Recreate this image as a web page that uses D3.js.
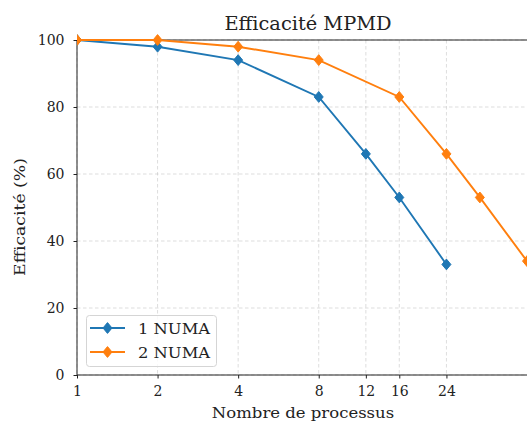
<!DOCTYPE html>
<html>
<head>
<meta charset="utf-8">
<script src="https://cdn.jsdelivr.net/npm/d3@7"></script>
<style>
  html, body { margin: 0; padding: 0; background: #fff; }
  svg { display: block; font-family: "DejaVu Serif", serif; }
</style>
</head>
<body>
<svg id="chart" width="527" height="421"></svg>
<script>
// Parallel efficiency of the MPMD run, by number of processes
const procs1 = [1, 2, 4, 8, 12, 16, 24];
const eff1 = [100, 98, 94, 83, 66, 53, 33];
const procs2 = [1, 2, 4, 8, 16, 24, 32, 48];
const eff2 = [100, 100, 98, 94, 83, 66, 53, 34];
const seriesNames = ["1 NUMA", "2 NUMA"];
const seriesColors = ["#1f77b4", "#ff7f0e"];
const xTicks = [1, 2, 4, 8, 12, 16, 24];
const yTicks = [0, 20, 40, 60, 80, 100];

const svg = d3.select("#chart");
const m = { left: 77, right: 527, top: 40, bottom: 375 };
const ink = "#222";

const x = d3.scaleLog().base(2).domain([1, 48]).range([m.left, m.right]);
const y = d3.scaleLinear().domain([0, 100]).range([m.bottom, m.top]);

// text helper with a slight widening of the glyphs along the baseline
function label(parent, px, py, str, size, anchor, sx, rot) {
  return parent.append("text")
    .attr("transform", `translate(${px},${py})` + (rot ? ` rotate(${rot})` : "") + ` scale(${sx},1)`)
    .attr("text-anchor", anchor).attr("font-size", size).attr("fill", ink).text(str);
}

// clip region for the plot
svg.append("defs").append("clipPath").attr("id", "plotclip")
  .append("rect").attr("x", m.left).attr("y", m.top - 6)
  .attr("width", m.right - m.left).attr("height", m.bottom - m.top + 12);

// grid
const grid = svg.append("g").attr("stroke", "#b0b0b0").attr("stroke-opacity", 0.55)
  .attr("stroke-width", 0.8).attr("stroke-dasharray", "3.5,2.5");
grid.selectAll("line.v").data(xTicks).join("line")
  .attr("x1", d => x(d)).attr("x2", d => x(d)).attr("y1", m.top).attr("y2", m.bottom);
grid.selectAll("line.h").data(yTicks).join("line")
  .attr("x1", m.left).attr("x2", m.right).attr("y1", d => y(d)).attr("y2", d => y(d));

// axes
const xAxis = d3.axisBottom(x).tickValues(xTicks).tickFormat(d3.format("d")).tickSizeOuter(0).tickSize(3.5).tickPadding(8);
const yAxis = d3.axisLeft(y).tickValues(yTicks).tickSizeOuter(0).tickSize(3.5).tickPadding(9);
const gx = svg.append("g").attr("transform", `translate(0,${m.bottom})`).call(xAxis);
const gy = svg.append("g").attr("transform", `translate(${m.left},0)`).call(yAxis);
[gx, gy].forEach(g => {
  g.selectAll("text").attr("font-family", "DejaVu Serif").attr("font-size", 14).attr("fill", ink);
  g.selectAll("line").attr("stroke", ink);
  g.select(".domain").remove();
});
// spines
svg.append("line").attr("x1", m.left).attr("x2", m.right).attr("y1", m.bottom).attr("y2", m.bottom)
  .attr("stroke", ink).attr("stroke-width", 1);
svg.append("line").attr("x1", m.left).attr("x2", m.right).attr("y1", m.top).attr("y2", m.top)
  .attr("stroke", ink).attr("stroke-width", 1);
svg.append("line").attr("x1", m.left).attr("x2", m.left).attr("y1", m.top).attr("y2", m.bottom)
  .attr("stroke", ink).attr("stroke-width", 1);

// series
const diamond = "M0,-5.4L4.5,0L0,5.4L-4.5,0Z";
const series = [
  { xs: procs1, ys: eff1 },
  { xs: procs2, ys: eff2 }
];
const plot = svg.append("g").attr("clip-path", "url(#plotclip)");
const line = d3.line().x(d => x(d[0])).y(d => y(d[1]));
series.forEach((s, i) => {
  const pts = s.xs.map((v, k) => [v, s.ys[k]]);
  const g = plot.append("g");
  g.append("path").attr("d", line(pts)).attr("fill", "none")
    .attr("stroke", seriesColors[i]).attr("stroke-width", 1.9);
  g.selectAll("path.mk").data(pts).join("path").attr("class", "mk")
    .attr("d", diamond).attr("transform", d => `translate(${x(d[0])},${y(d[1])})`)
    .attr("fill", seriesColors[i]).attr("stroke", seriesColors[i]).attr("stroke-width", 1);
});

// title and axis labels
label(svg, 308, 30, "Efficacité MPMD", 19, "middle", 1.02);
label(svg, 303, 418, "Nombre de processus", 15, "middle", 1.1);
label(svg, 25, 217, "Efficacité (%)", 15, "middle", 1.15, -90);

// legend
const lg = svg.append("g");
lg.append("rect").attr("x", 86.5).attr("y", 315.5).attr("width", 130).attr("height", 51)
  .attr("rx", 3).attr("fill", "#fff").attr("fill-opacity", 0.8).attr("stroke", "#d5d5d5");
seriesNames.forEach((name, i) => {
  const ly = 328 + i * 24;
  lg.append("line").attr("x1", 90).attr("x2", 125).attr("y1", ly).attr("y2", ly)
    .attr("stroke", seriesColors[i]).attr("stroke-width", 1.9);
  lg.append("path").attr("d", diamond).attr("transform", `translate(107.5,${ly})`)
    .attr("fill", seriesColors[i]).attr("stroke", seriesColors[i]);
  label(lg, 138, ly + 5.5, name, 15, "start", 1.09);
});
</script>
</body>
</html>
